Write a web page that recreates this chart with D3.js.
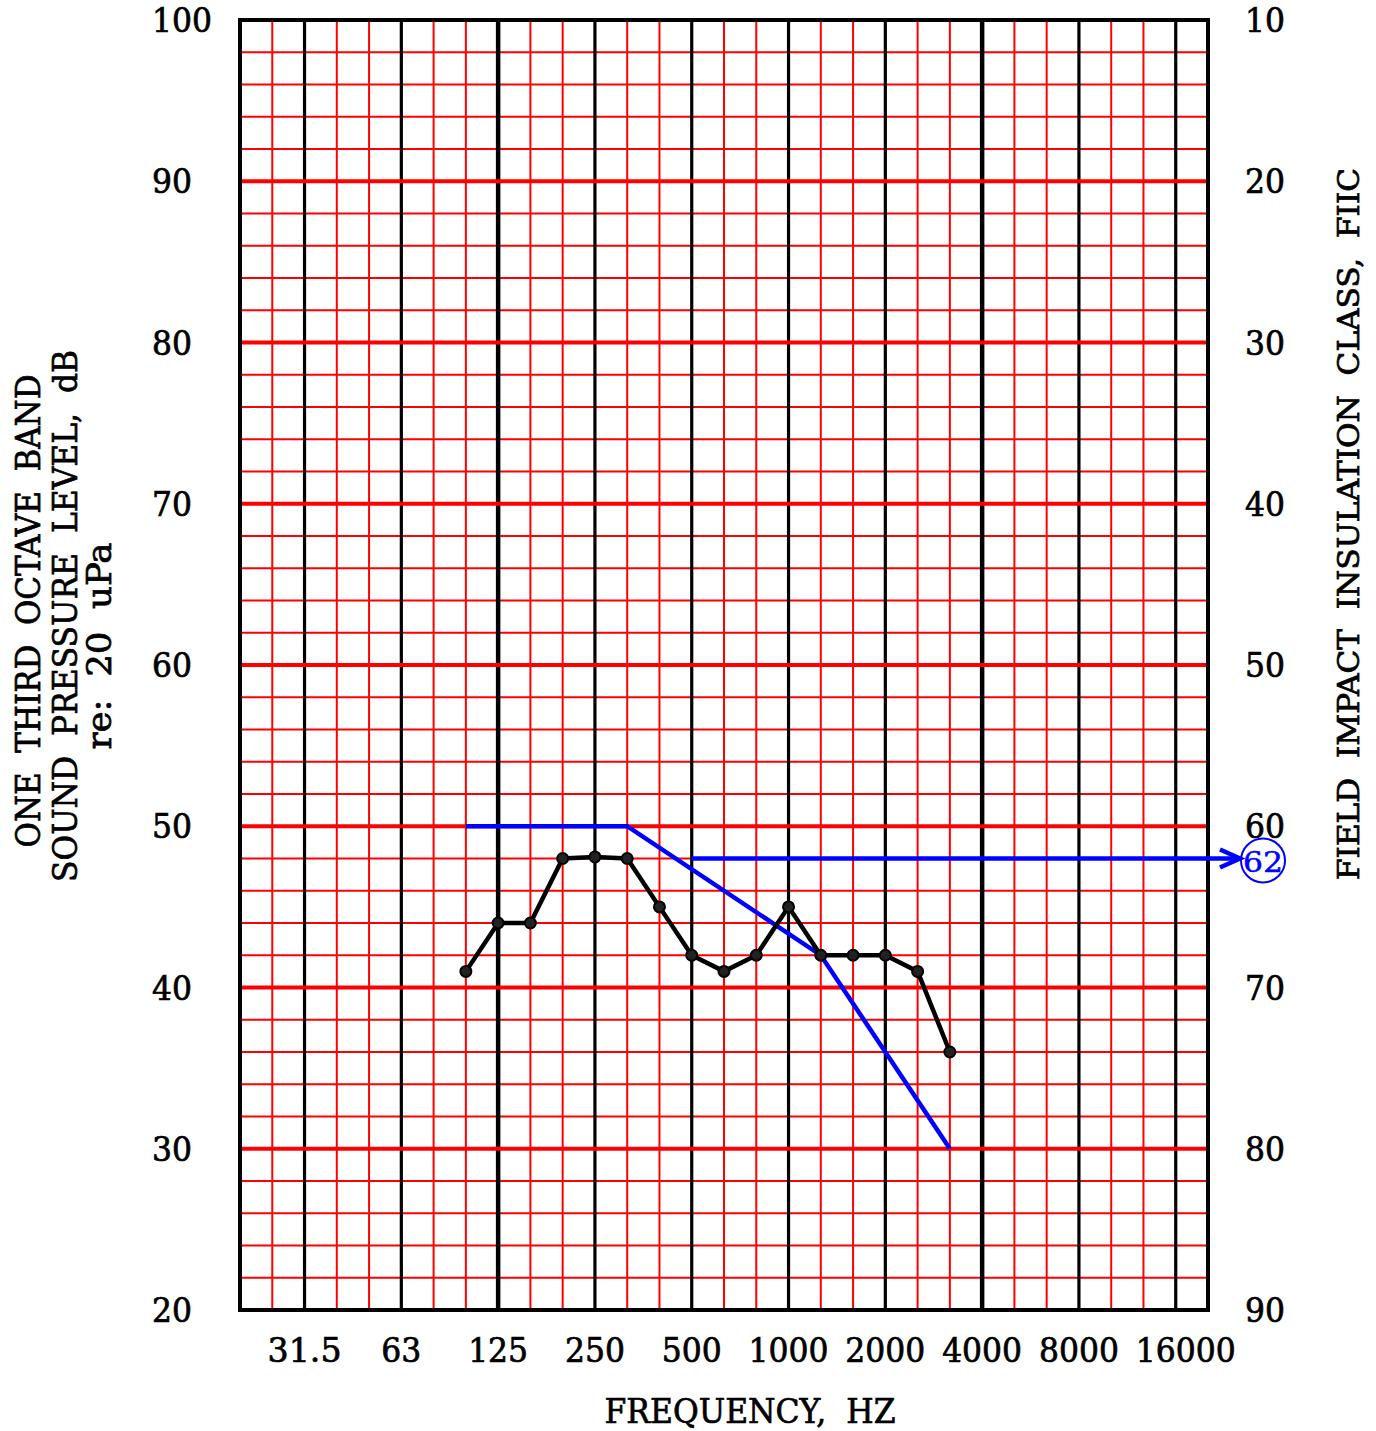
<!DOCTYPE html>
<html><head><meta charset="utf-8">
<script src="https://cdn.jsdelivr.net/npm/d3@7"></script>
<style>body{margin:0;background:#fff}svg{display:block}text{font-family:"DejaVu Serif",serif;fill:#000;white-space:pre}</style>
</head><body>
<script>
// One-third octave bands spanning the chart (20 Hz .. 20 kHz)
const bands = ["20","25","31.5","40","50","63","80","100","125","160","200","250","315","400","500","630","800","1000","1250","1600","2000","2500","3150","4000","5000","6300","8000","10000","12500","16000","20000"];
const octaveLabels = ["31.5","63","125","250","500","1000","2000","4000","8000","16000"];
const heavyOctaves = ["125","4000"];
// Measured one-third octave band levels (dB)
const measFreq = ["100","125","160","200","250","315","400","500","630","800","1000","1250","1600","2000","2500","3150"];
const measLevel = [41,44,44,48,48.1,48,45,42,41,42,45,42,42,42,41,36];
// Fitted FIIC reference contour (dB)
const contourFreq = ["100","315","1250","3150"];
const contourLevel = [50,50,42,30];
const ratingFreq = "500";
const ratingLevel = 48;
const ratingLabel = "62";
const leftTicks = [20,30,40,50,60,70,80,90,100];
const rightTicks = [90,80,70,60,50,40,30,20,10];

const W = 1376, H = 1431;
const L = 240, R = 1208, T = 20, B = 1310;
const svg = d3.select("body").append("svg").attr("width", W).attr("height", H);
const x = d3.scalePoint().domain(bands).range([L, R]);
const y = d3.scaleLinear().domain([20, 100]).range([B, T]);
const y2 = d3.scaleLinear().domain([90, 10]).range([B, T]);

const g = svg.append("g");
// thin red verticals
g.selectAll("line.rv").data(bands.filter(b => !octaveLabels.includes(b))).join("line")
  .attr("x1", d => x(d)).attr("x2", d => x(d)).attr("y1", T).attr("y2", B)
  .attr("stroke", "#ff0000").attr("stroke-width", 2);
// thin red horizontals
const minor = d3.range(22, 100, 2).filter(v => v % 10 !== 0);
g.selectAll("line.rh").data(minor).join("line")
  .attr("x1", L).attr("x2", R).attr("y1", d => y(d)).attr("y2", d => y(d))
  .attr("stroke", "#ff0000").attr("stroke-width", 2);
// black octave verticals
g.selectAll("line.bv").data(octaveLabels).join("line")
  .attr("x1", d => x(d)).attr("x2", d => x(d)).attr("y1", T).attr("y2", B)
  .attr("stroke", "#000").attr("stroke-width", d => heavyOctaves.includes(d) ? 4.5 : 3.2);
// thick red horizontals
g.selectAll("line.rH").data(d3.range(30, 100, 10)).join("line")
  .attr("x1", L).attr("x2", R).attr("y1", d => y(d)).attr("y2", d => y(d))
  .attr("stroke", "#ff0000").attr("stroke-width", 4);
// frame
g.append("rect").attr("x", L).attr("y", T).attr("width", R - L).attr("height", B - T)
  .attr("fill", "none").attr("stroke", "#000").attr("stroke-width", 4);

const fs = 33;
function txt(sel) { return sel.attr("font-size", fs).attr("stroke", "#000").attr("stroke-width", 0.7); }
const numLen = s => { s = String(s); return s.replace(/\./g, "").length * 20 + (s.match(/\./g) || []).length * 14; };
// left tick labels
txt(svg.selectAll("text.lt").data(leftTicks).join("text")
  .attr("x", 152).attr("y", d => y(d) + 12)
  .attr("textLength", d => numLen(d)).attr("lengthAdjust", "spacingAndGlyphs")).text(d => d);
// right tick labels
txt(svg.selectAll("text.rt").data(rightTicks).join("text")
  .attr("x", 1245).attr("y", d => y2(d) + 12)
  .attr("textLength", d => numLen(d)).attr("lengthAdjust", "spacingAndGlyphs")).text(d => d);
// bottom labels
txt(svg.selectAll("text.bt").data(octaveLabels).join("text")
  .attr("x", (d, i) => x(d) + (i === octaveLabels.length - 1 ? 10 : 0)).attr("y", 1362).attr("text-anchor", "middle")
  .attr("textLength", d => numLen(d)).attr("lengthAdjust", "spacingAndGlyphs")).text(d => d);
txt(svg.append("text").attr("x", 750).attr("y", 1423).attr("text-anchor", "middle")
  .attr("textLength", 291).attr("lengthAdjust", "spacingAndGlyphs")).text("FREQUENCY,  HZ");

// left axis title
const lt = [["ONE  THIRD  OCTAVE  BAND", 40, 611, 473], ["SOUND  PRESSURE  LEVEL,  dB", 77, 616, 532], ["re:  20  uPa", 111, 646, 207]];
lt.forEach(([t, cx, cy, len]) => {
  txt(svg.append("text").attr("transform", `translate(${cx},${cy}) rotate(-90)`)
    .attr("text-anchor", "middle")
    .attr("textLength", len).attr("lengthAdjust", "spacingAndGlyphs")).text(t);
});
txt(svg.append("text").attr("transform", `translate(1359,524) rotate(-90)`)
  .attr("text-anchor", "middle")
  .style("font-family", "'DejaVu Serif Condensed','DejaVu Serif',serif")
  .attr("textLength", 712).attr("lengthAdjust", "spacingAndGlyphs"))
  .attr("font-size", 30)
  .text("FIELD  IMPACT  INSULATION  CLASS,  FIIC");

// contour
const line = d3.line().x(d => x(d[0])).y(d => y(d[1]));
svg.append("path").datum(d3.zip(contourFreq, contourLevel)).attr("d", line)
  .attr("fill", "none").attr("stroke", "#0000ff").attr("stroke-width", 4.5);
// rating arrow
const ax1 = x(ratingFreq), ay = y(ratingLevel), ax2 = R + 32;
svg.append("line").attr("x1", ax1).attr("x2", ax2 - 4).attr("y1", ay).attr("y2", ay)
  .attr("stroke", "#0000ff").attr("stroke-width", 4.5);
svg.append("path").attr("d", `M${ax2 - 20},${ay - 9} L${ax2},${ay} L${ax2 - 20},${ay + 9}`)
  .attr("fill", "none").attr("stroke", "#0000ff").attr("stroke-width", 4.5);
svg.append("circle").attr("cx", ax2 + 23).attr("cy", ay + 2).attr("r", 22)
  .attr("fill", "none").attr("stroke", "#0000ff").attr("stroke-width", 2);
svg.append("text").attr("x", ax2 + 23).attr("y", ay + 13).attr("text-anchor", "middle")
  .attr("font-size", 28).attr("textLength", 40).attr("lengthAdjust", "spacingAndGlyphs")
  .style("fill", "#0000ff").attr("stroke", "#0000ff").attr("stroke-width", 0.5)
  .text(ratingLabel);

// measured data
const meas = d3.zip(measFreq, measLevel);
svg.append("path").datum(meas).attr("d", line)
  .attr("fill", "none").attr("stroke", "#000").attr("stroke-width", 4.5);
svg.selectAll("circle.m").data(meas).join("circle")
  .attr("cx", d => x(d[0])).attr("cy", d => y(d[1])).attr("r", 5.5)
  .attr("fill", "#222").attr("stroke", "#000").attr("stroke-width", 2);
</script>
</body></html>
